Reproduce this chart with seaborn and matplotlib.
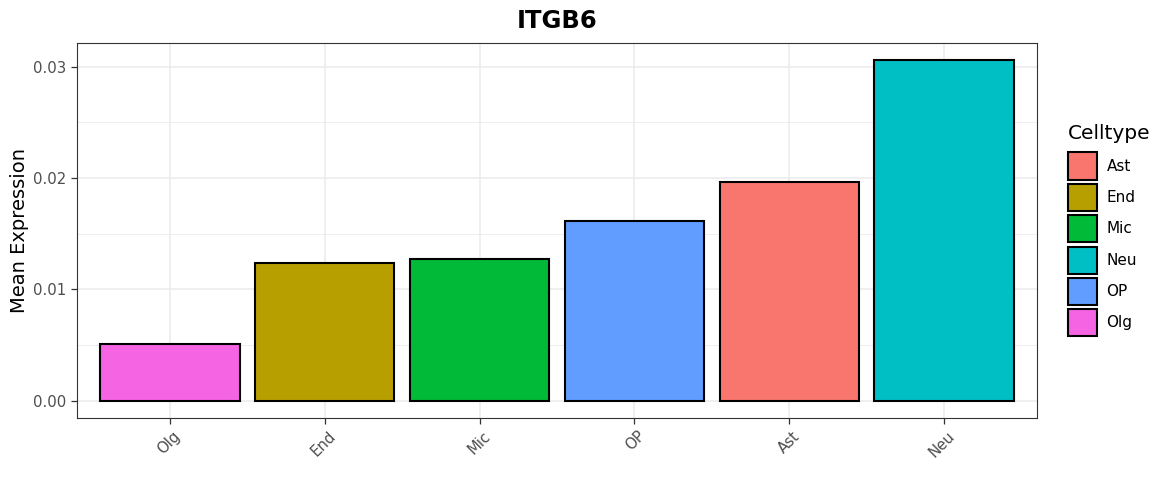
import numpy as np
import pandas as pd
import matplotlib
matplotlib.use("Agg")
import matplotlib.pyplot as plt
import matplotlib.transforms as mtransforms
from matplotlib.patches import Patch
import seaborn as sns

# data
celltypes = ["Olg", "End", "Mic", "OP", "Ast", "Neu"]
mean_expr = [0.00508, 0.01239, 0.01269, 0.01618, 0.01967, 0.03059]

legend_order = ["Ast", "End", "Mic", "Neu", "OP", "Olg"]
colors = {"Ast": "#F8766D", "End": "#B79F00", "Mic": "#00BA38",
          "Neu": "#00BFC4", "OP": "#619CFF", "Olg": "#F564E3"}

df = pd.DataFrame({"Celltype": celltypes, "Mean Expression": mean_expr})

sns.set_style("white")
plt.rcParams["font.family"] = ["DejaVu Sans"]
plt.rcParams["text.color"] = "black"
plt.rcParams["axes.labelcolor"] = "black"

fig = plt.figure(figsize=(11.7, 4.94), dpi=100)
ax = fig.add_axes([0.0658, 0.154, 0.8205, 0.759])

sns.barplot(data=df, x="Celltype", y="Mean Expression", hue="Celltype",
            order=celltypes, palette=colors, saturation=1, width=0.9, dodge=False,
            edgecolor="black", linewidth=1.5, legend=False, ax=ax, zorder=3)

ymax = max(mean_expr)
ax.set_ylim(-0.05 * ymax, 1.05 * ymax)
ax.set_xlim(-0.6, len(celltypes) - 0.4)

# grid like theme_bw
ax.set_yticks([0.0, 0.01, 0.02, 0.03])
ax.set_yticklabels(["0.00", "0.01", "0.02", "0.03"])
ax.set_yticks([0.005, 0.015, 0.025], minor=True)
ax.grid(which="major", color="#EBEBEB", linewidth=1.1, zorder=0)
ax.grid(which="minor", axis="y", color="#EBEBEB", linewidth=0.6, zorder=0)
ax.set_axisbelow(True)
for s in ax.spines.values():
    s.set_color("#333333")
    s.set_linewidth(0.8)

ax.tick_params(axis="both", which="major", length=4, width=0.9, color="#333333",
               labelcolor="#4D4D4D", labelsize=10.7, bottom=True, left=True)
ax.tick_params(axis="y", which="minor", length=0)

offset = mtransforms.ScaledTranslation(0.03, 0.0, fig.dpi_scale_trans)
for lab in ax.get_xticklabels():
    lab.set_rotation(45)
    lab.set_ha("right")
    lab.set_va("top")
    lab.set_rotation_mode("anchor")
    lab.set_transform(lab.get_transform() + offset)

ax.set_xlabel("")
ax.set_ylabel("Mean Expression", fontsize=14, color="black", labelpad=3)
ax.set_title("ITGB6", fontsize=17.5, fontweight="bold", pad=11, color="black")

handles = [Patch(facecolor=colors[c], edgecolor="black", linewidth=1.5) for c in legend_order]
leg = fig.legend(handles, legend_order, title="Celltype", loc="upper left",
                 bbox_to_anchor=(0.9065, 0.765), frameon=False, fontsize=11,
                 title_fontsize=14.5, handlelength=1.9, handleheight=2.35,
                 labelspacing=0.28, handletextpad=0.6, borderpad=0)
leg._legend_box.align = "left"
leg._legend_box.sep = 7

fig.savefig("out.png", dpi=100)
